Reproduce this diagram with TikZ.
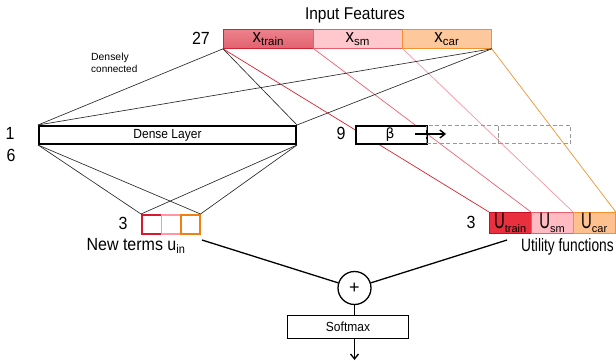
\documentclass[tikz,border=0pt]{standalone}
\usepackage{fontspec}
\setmainfont{Liberation Sans}
\newfontfamily\dvfont{DejaVu Sans}
\usetikzlibrary{arrows.meta}
\definecolor{trainF}{RGB}{226,98,112}
\definecolor{trainT}{RGB}{236,130,140}
\definecolor{trainB}{RGB}{208,36,52}
\definecolor{smF}{RGB}{255,200,205}
\definecolor{smB}{RGB}{232,92,108}
\definecolor{carF}{RGB}{253,200,156}
\definecolor{carB}{RGB}{240,146,48}
\definecolor{utrainF}{RGB}{232,48,62}
\definecolor{utrainB}{RGB}{196,16,32}
\definecolor{usmF}{RGB}{255,186,194}
\definecolor{ucarF}{RGB}{253,192,142}
\definecolor{lnA}{RGB}{222,32,48}
\definecolor{lnB}{RGB}{238,96,112}
\definecolor{lnC}{RGB}{255,146,160}
\definecolor{lnD}{RGB}{240,146,48}
\definecolor{nA}{RGB}{214,24,48}
\definecolor{nB}{RGB}{255,150,165}
\definecolor{nC}{RGB}{240,128,16}
\definecolor{thin}{RGB}{40,40,40}
\newcommand{\fs}[1]{\fontsize{#1}{#1}\selectfont}
\newcommand{\tall}[1]{\scalebox{1}[1.1]{#1}}
\tikzset{
  cell/.style={draw, inner sep=0pt, anchor=north west},
  thinline/.style={draw=thin, line width=0.65pt},
  colline/.style={line width=0.7pt},
  lbl/.style={inner sep=0pt},
  dashbox/.style={cell, draw=gray!80, dashed, line width=1.2pt, dash pattern=on 4pt off 2.5pt},
}
\begin{document}
\begin{tikzpicture}[x=1pt,y=-1pt]
\useasboundingbox (0,0) rectangle (616,361);
% input bar
\node[cell, draw=trainB, top color=trainT, bottom color=trainF, line width=0.8pt, minimum width=90pt, minimum height=19pt] (xtrain) at (223,29) {};
\node[cell, draw=smB, fill=smF, line width=0.8pt, minimum width=89pt, minimum height=19pt] (xsm) at (313,29) {};
\node[cell, draw=carB, fill=carF, line width=0.8pt, minimum width=89pt, minimum height=19pt] (xcar) at (402,29) {};
\node[lbl] (xtrainT) at (xtrain.center) {\fs{17}\tall{x}\textsubscript{\fs{11.5}train}};
\node[lbl] (xsmT) at (xsm.center) {\fs{17}\tall{x}\textsubscript{\fs{11.5}sm}};
\node[lbl] (xcarT) at (xcar.center) {\fs{17}\tall{x}\textsubscript{\fs{11.5}car}};
\node[lbl] (title) at (355,15) {\fs{15.5}\tall{Input Features}};
\node[lbl] (n27) at (201,38) {\fs{16}\tall{27}};
% utility bar
\node[cell, draw=utrainB, fill=utrainF, line width=0.8pt, minimum width=42pt, minimum height=21pt] (utrain) at (489,212) {};
\node[cell, draw=smB, fill=usmF, line width=0.8pt, minimum width=42pt, minimum height=21pt] (usm) at (531,212) {};
\node[cell, draw=carB, fill=ucarF, line width=0.8pt, minimum width=42pt, minimum height=21pt] (ucar) at (573,212) {};
% connectors input -> utility
\draw[colline, lnA] (xtrain.south west) -- (utrain.north west);
\draw[colline, lnB] (xtrain.south east) -- (usm.north west);
\draw[colline, lnC] (xsm.south east) -- (ucar.north west);
\draw[colline, lnD] (xcar.south east) -- (ucar.north east);
% dense layer
\node[cell, fill=white, line width=2pt, minimum width=257pt, minimum height=18pt] (dense) at (38,125) {};
\node[lbl] (denseT) at (dense.center) {\fs{12}\tall{Dense Layer}};
\draw[thinline] (xtrain.south west) -- (dense.north west);
\draw[thinline] (xtrain.south west) -- (dense.north east);
\draw[thinline] (xcar.south east) -- (dense.north west);
\draw[thinline] (xcar.south east) -- (dense.north east);
\node[lbl, align=left, anchor=north west] (dc) at (91,53) {\fontsize{10.4}{16}\selectfont Densely\\connected};
\node[lbl] (n1) at (10,133) {\fs{16}\tall{1}};
\node[lbl] (n6) at (11,155) {\fs{16}\tall{6}};
% beta
\node[cell, fill=white, line width=1.6pt, minimum width=71pt, minimum height=18pt] (beta) at (355,125) {};
\node[lbl, anchor=base] (betaT) at (390,138) {\dvfont\fs{14}β};
\node[dashbox, minimum width=72pt, minimum height=18pt] (d1) at (426,125) {};
\node[dashbox, minimum width=72pt, minimum height=18pt] (d2) at (498,125) {};
\node[lbl] (n9) at (341,133) {\fs{16}\tall{9}};
\coordinate (arrS) at (415,134);
\coordinate (arrE) at (446,134);
\draw[line width=1.4pt, -{Straight Barb[length=5pt,width=8pt]}] (arrS) -- (arrE);
% new terms
\node[cell, draw=nA, line width=1.5pt, minimum width=19.5pt, minimum height=19pt] (u1) at (141,214) {};
\node[cell, draw=nB, line width=1.5pt, minimum width=19.5pt, minimum height=19pt] (u2) at (160.5,214) {};
\node[cell, draw=nC, line width=1.5pt, minimum width=19pt, minimum height=19pt] (u3) at (180,214) {};
\draw[thinline] (dense.south west) -- (u1.north west);
\draw[thinline] (dense.south west) -- (u3.north east);
\draw[thinline] (dense.south east) -- (u1.north west);
\draw[thinline] (dense.south east) -- (u3.north east);
\node[lbl] (n3a) at (123,223) {\fs{16}\tall{3}};
\node[lbl] (nt) at (136,246) {\fs{16}\tall{New terms u\textsubscript{\fs{11}in}}};
% utility labels
\node[lbl] (utrainT) at (utrain.center) {\fs{16}\raisebox{1pt}{\scalebox{0.93}[1.4]{U}}\textsubscript{\fs{11}train}};
\node[lbl] (usmT) at (usm.center) {\fs{16}\raisebox{1pt}{\scalebox{0.93}[1.4]{U}}\textsubscript{\fs{11}sm}};
\node[lbl] (ucarT) at (ucar.center) {\fs{16}\raisebox{1pt}{\scalebox{0.93}[1.4]{U}}\textsubscript{\fs{11}car}};
\node[lbl] (n3b) at (471,222) {\fs{16}\tall{3}};
\node[lbl, anchor=west] (uf) at (521,247) {\fs{16}\scalebox{0.86}[1.12]{Utility functions}};
% plus, softmax
\node[draw, circle, line width=1.3pt, minimum size=33pt, inner sep=0pt, fill=white] (plus) at (354.5,288) {\fs{18}+};
\coordinate (ntEnd) at (202,240);
\coordinate (ufEnd) at (507,240);
\draw[line width=1.3pt] (ntEnd) -- (plus);
\draw[line width=1.3pt] (ufEnd) -- (plus);
\node[cell, line width=1pt, minimum width=121pt, minimum height=23pt] (soft) at (287,315) {};
\node[lbl] (softT) at (soft.center) {\fs{12}\tall{Softmax}};
\draw[line width=1.3pt] (plus.south) -- (plus.south |- soft.north);
\coordinate (outEnd) at (354.5,360);
\draw[line width=1.3pt, -{Straight Barb[length=5pt,width=8pt]}] (plus.south |- soft.south) -- (outEnd);
\end{tikzpicture}
\end{document}
